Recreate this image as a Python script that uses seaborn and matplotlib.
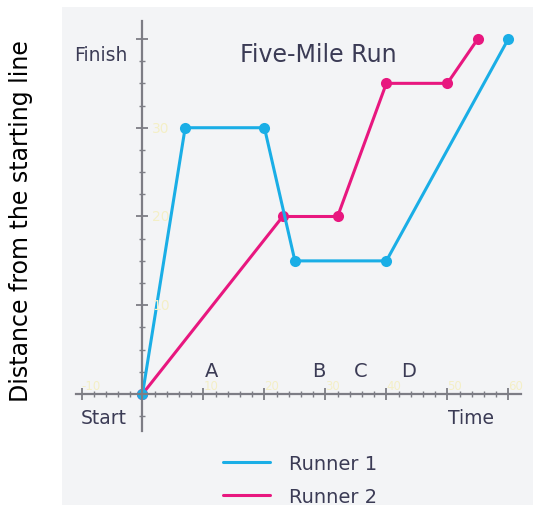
import pandas as pd
import matplotlib.pyplot as plt
import seaborn as sns
from matplotlib.lines import Line2D
from matplotlib.ticker import FixedLocator

# --- data ---
runner1_time = [0, 7, 20, 25, 40, 60]
runner1_dist = [0, 30, 30, 15, 15, 40]
runner2_time = [0, 23, 32, 40, 50, 55]
runner2_dist = [0, 20, 20, 35, 35, 40]

point_labels = ["A", "B", "C", "D"]
point_label_x = [11.3, 29.0, 35.8, 43.6]

x_tick_values = [-10, 10, 20, 30, 40, 50, 60]
y_tick_values = [10, 20, 30]

blue = "#1aaee6"
pink = "#e8177f"
ink = "#3b3b55"
axis_grey = "#7d7d85"

df = pd.concat([
    pd.DataFrame({"Time": runner1_time, "Distance": runner1_dist, "Runner": "Runner 1"}),
    pd.DataFrame({"Time": runner2_time, "Distance": runner2_dist, "Runner": "Runner 2"}),
])

sns.set_style("white")
plt.rcParams['font.family'] = ['DejaVu Sans']

fig = plt.figure(figsize=(5.33, 5.06), dpi=100)
ax = fig.add_axes([62 / 533, 0, 471 / 533, 498 / 506])
ax.set_facecolor("#f3f4f6")

# runner 2 first so runner 1 sits on top (blue dot at the origin)
sns.lineplot(data=df, x="Time", y="Distance", hue="Runner",
             hue_order=["Runner 2", "Runner 1"],
             palette={"Runner 1": blue, "Runner 2": pink},
             sort=False, marker="o", markersize=8, markeredgewidth=0,
             linewidth=2.2, legend=False, ax=ax)

ax.set_xlim(-13.2, 64.05)
ax.set_ylim(-12.5, 43.6)

# axes crossing at the origin
for side in ["top", "right"]:
    ax.spines[side].set_visible(False)
ax.spines["left"].set_position(("data", 0))
ax.spines["bottom"].set_position(("data", 0))
ax.spines["left"].set_bounds(-4.2, 42.0)
ax.spines["bottom"].set_bounds(-10.9, 62.1)
for side in ["left", "bottom"]:
    ax.spines[side].set_color(axis_grey)
    ax.spines[side].set_linewidth(1.6)

ax.xaxis.set_major_locator(FixedLocator([-10, 0, 10, 20, 30, 40, 50, 60]))
ax.xaxis.set_minor_locator(FixedLocator([v for v in range(-10, 61, 2) if v % 10]))
ax.yaxis.set_major_locator(FixedLocator([0, 10, 20, 30, 40]))
ax.yaxis.set_minor_locator(FixedLocator([k * 2.5 for k in range(-1, 16) if k % 4]))
ax.tick_params(which="major", direction="inout", length=8, width=1.3,
               color=axis_grey, labelbottom=False, labelleft=False)
ax.tick_params(which="minor", direction="inout", length=4, width=1.0,
               color=axis_grey)
ax.tick_params(axis="x", which="both", bottom=True)
ax.tick_params(axis="y", which="both", left=True)
ax.set_xlabel("")
ax.set_ylabel("")

# faint pale tick numbers that show in the original
for v in x_tick_values:
    ax.text(v, 0.25, str(v), color="#f3efc6", fontsize=8.5, ha="left", va="bottom")
for v in y_tick_values:
    ax.text(1.6, v, str(v), color="#f3efc6", fontsize=10, ha="left", va="center")

# annotations
ax.text(-6.9, 38.3, "Finish", color=ink, fontsize=13.5, ha="center", va="center")
ax.text(28.8, 38.3, "Five-Mile Run", color=ink, fontsize=17, ha="center", va="center")
ax.text(-6.3, -2.6, "Start", color=ink, fontsize=13.5, ha="center", va="center")
ax.text(53.9, -2.6, "Time", color=ink, fontsize=13.5, ha="center", va="center")
for lab, x in zip(point_labels, point_label_x):
    ax.text(x, 2.7, lab, color=ink, fontsize=14, ha="center", va="center")

handles = [Line2D([], [], color=blue, linewidth=2.2),
           Line2D([], [], color=pink, linewidth=2.2)]
leg = fig.legend(handles=handles, labels=["Runner 1", "Runner 2"],
                 loc="center", bbox_to_anchor=(0.563, 0.05), frameon=False,
                 fontsize=14, handlelength=2.4, handletextpad=1.0,
                 labelspacing=0.7)
for t in leg.get_texts():
    t.set_color(ink)

fig.text(0.04, 0.563, "Distance from the starting line", rotation=90,
         fontsize=17, color="black", ha="center", va="center")

fig.savefig("out.png", dpi=100)
